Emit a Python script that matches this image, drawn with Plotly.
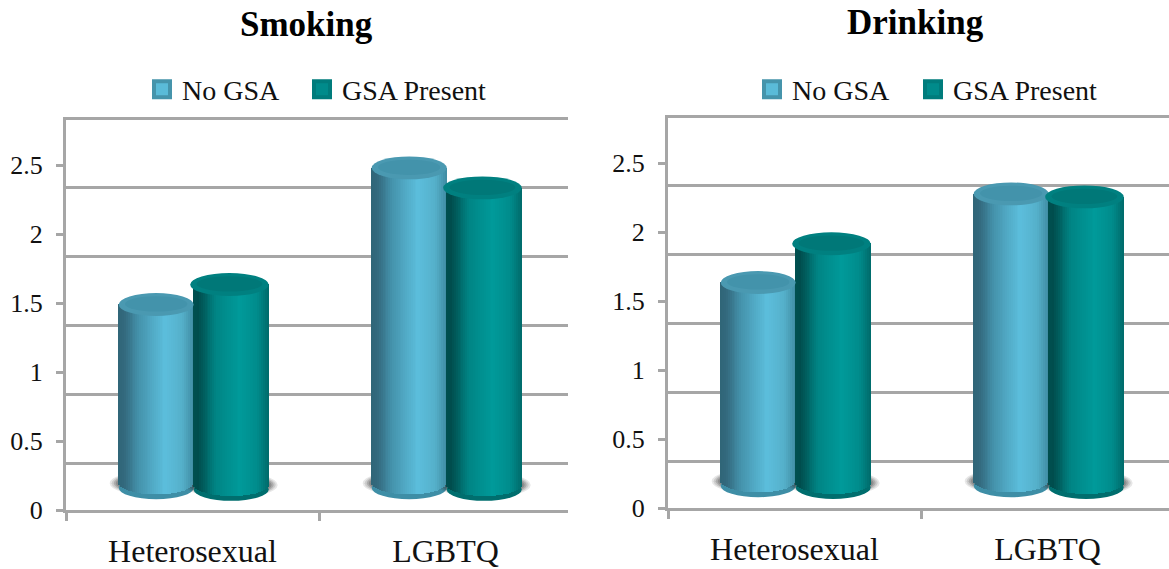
import numpy as np
import plotly.graph_objects as go

# ---------- data ----------
categories = ["Heterosexual", "LGBTQ"]
series_names = ["No GSA", "GSA Present"]
smoking_no_gsa = [1.49, 2.48]
smoking_gsa = [1.635, 2.335]
drinking_no_gsa = [1.635, 2.277]
drinking_gsa = [1.916, 2.255]
y_ticks = [0, 0.5, 1, 1.5, 2, 2.5]
y_tick_labels = ["0", "0.5", "1", "1.5", "2", "2.5"]

# ---------- style ----------
W, H = 1169, 569
PLOT_H = 553          # height of the plotting area after Plotly's own bottom reservation
PX_X = 253.0          # px per category
PX_Y = 138.8          # px per value unit
SERIF = "Liberation Serif"
GRID = "#A6A6A6"
TXT = "#111111"
BAR_W = 0.2965
BAR_SHIFT = 1.2 / PX_X
FLOOR = 0.195         # front-floor centre of the cylinders in value units
FLOOR_SHIFT = [0.0, -0.012]
CAP_H = 11.5 / PX_Y
GRID_SHIFT = 46.5 / PX_Y
STYLES = [
    dict(stops=[(0, "#2F6577"), (.08, "#33697D"), (.28, "#4594AD"), (.62, "#5CBEDC"), (.85, "#55B0CA"), (1, "#3F8BA2")],
         cap="#4A99B1", cap_in="#4393AB", rim="#3E8EA6", sw="#5ABBD8", sw_line="#4594AB", extra=0.0),
    dict(stops=[(0, "#005050"), (.06, "#004C4C"), (.3, "#008585"), (.62, "#009A9A"), (.85, "#008C8C"), (1, "#006A6A")],
         cap="#008080", cap_in="#007878", rim="#006E6E", sw="#008B8B", sw_line="#007C7C", extra=0.014),
]


def h2r(c):
    return np.array([int(c[i:i + 2], 16) for i in (1, 3, 5)], float)


def shade(stops, t):
    xs = [s[0] for s in stops]
    rgb = np.array([h2r(s[1]) for s in stops])
    return "rgb({:.0f},{:.0f},{:.0f})".format(*[np.interp(t, xs, rgb[:, i]) for i in range(3)])


fig = go.Figure()
shapes = []
N = 40


def cylinder_traces(values, s_idx, xa, ya):
    st = STYLES[s_idx]
    xs, ys, bases, cols = [], [], [], []
    step = BAR_W / N
    floor = FLOOR + FLOOR_SHIFT[s_idx]
    for c_idx, v in enumerate(values):
        left = c_idx + 0.5 - BAR_W + s_idx * BAR_W + BAR_SHIFT
        for k in range(N):
            t = (k + .5) / N
            b = floor - CAP_H * np.sqrt(max(0, 1 - (2 * t - 1) ** 2))
            xs.append(left + t * BAR_W)
            bases.append(b)
            ys.append(v - b)
            cols.append(shade(st["stops"], t))
        cx0, cx1 = left - st["extra"], left + BAR_W
        # soft floor shadow
        for gx, gy, alpha in [(9, 13, .12), (7, 12, .16), (5, 11, .22), (3, 10, .26), (1, 9, .30)]:
            shapes.append(dict(type="circle", xref=xa, yref=ya, layer="below",
                               x0=left - gx / PX_X, x1=cx1 + gx / PX_X,
                               y0=floor - gy / PX_Y, y1=floor + gy / PX_Y,
                               fillcolor=f"rgba(60,60,60,{alpha})", line_width=0))
        # rim at the bottom
        rim_drop = 4.5 / PX_Y
        shapes.append(dict(type="circle", xref=xa, yref=ya, layer="below",
                           x0=left, x1=cx1, y0=floor - CAP_H - rim_drop, y1=floor + CAP_H - rim_drop,
                           fillcolor=st["rim"], line_width=0))
        # top cap
        shapes.append(dict(type="circle", xref=xa, yref=ya, layer="above",
                           x0=cx0, x1=cx1, y0=v - CAP_H, y1=v + CAP_H,
                           fillcolor=st["cap"], line_width=0))
        shapes.append(dict(type="circle", xref=xa, yref=ya, layer="above",
                           x0=cx0 + .025, x1=cx1 - .025, y0=v - CAP_H * .62, y1=v + CAP_H * .72,
                           fillcolor=st["cap_in"], line_width=0))
    fig.add_trace(go.Bar(x=xs, y=ys, base=bases, width=step * 1.25, xaxis=xa, yaxis=ya,
                         marker=dict(color=cols, line_width=0), showlegend=False, hoverinfo="skip"))


panels = [
    dict(no=smoking_no_gsa, gsa=smoking_gsa, xa="x", grid="y", val="y2", legends=["legend", "legend2"]),
    dict(no=drinking_no_gsa, gsa=drinking_gsa, xa="x2", grid="y3", val="y4", legends=["legend3", "legend4"]),
]
for p in panels:
    # legend entries live on the grid axis, which also keeps that axis alive
    for i, name in enumerate(series_names):
        st = STYLES[i]
        fig.add_trace(go.Scatter(x=[None], y=[None], mode="markers", name=name, xaxis=p["xa"], yaxis=p["grid"],
                                 legend=p["legends"][i],
                                 marker=dict(symbol="square", size=16, color=st["sw"],
                                             line=dict(color=st["sw_line"], width=4))))
    cylinder_traces(p["no"], 0, p["xa"], p["val"])
    cylinder_traces(p["gsa"], 1, p["xa"], p["val"])


def x_axis(left, right, anchor):
    return dict(domain=[left / W, right / W], range=[0, (right - left) / PX_X], anchor=anchor,
                tickmode="array", tickvals=[.5, 1.5], ticktext=categories, ticks="", ticklen=0,
                ticklabelstandoff=10,
                tickfont=dict(family=SERIF, size=32, color=TXT), showgrid=False, zeroline=False,
                showline=True, linecolor=GRID, linewidth=3,
                minor=dict(tickmode="array", tickvals=[0, 1], ticks="outside", ticklen=8, tickcolor=GRID, tickwidth=3))


def y_grid(top, bottom, anchor):
    span = (bottom - top) / PX_Y
    return dict(domain=[1 - bottom / PLOT_H, 1 - top / PLOT_H], range=[-GRID_SHIFT, span - GRID_SHIFT], anchor=anchor,
                tickmode="array", tickvals=y_ticks, showticklabels=False, ticks="",
                showgrid=True, gridcolor=GRID, gridwidth=3, zeroline=False, showline=False)


def y_val(top, bottom, anchor, over):
    span = (bottom - top) / PX_Y
    return dict(range=[0, span], anchor=anchor, overlaying=over, side="left",
                tickmode="array", tickvals=y_ticks, ticktext=y_tick_labels, ticks="outside", ticklen=7,
                ticklabelstandoff=8,
                tickcolor=GRID, tickwidth=3, tickfont=dict(family=SERIF, size=26, color=TXT),
                showgrid=False, zeroline=False, showline=True, linecolor=GRID, linewidth=3)


annotations = [
    dict(text="<b>Smoking</b>", x=306 / W, y=1 - 25 / PLOT_H, xref="paper", yref="paper", showarrow=False,
         xanchor="center", yanchor="middle", font=dict(family=SERIF, size=35, color="#000000")),
    dict(text="<b>Drinking</b>", x=915 / W, y=1 - 23 / PLOT_H, xref="paper", yref="paper", showarrow=False,
         xanchor="center", yanchor="middle", font=dict(family=SERIF, size=35, color="#000000")),
]


def legend_cfg(x, y):
    return dict(orientation="h", x=x / W, y=1 - y / PLOT_H, xanchor="left", yanchor="middle",
                font=dict(family=SERIF, size=28, color=TXT), bgcolor="rgba(0,0,0,0)",
                itemsizing="trace", itemwidth=30, tracegroupgap=0)


fig.update_layout(
    width=W, height=H, autosize=False, margin=dict(l=0, r=0, t=0, b=0),
    paper_bgcolor="white", plot_bgcolor="white", barmode="overlay", bargap=0,
    shapes=shapes, annotations=annotations,
    xaxis=x_axis(66, 568, "y"),
    yaxis=y_grid(118, 513, "x"),
    yaxis2=y_val(118, 513, "x", "y"),
    xaxis2=x_axis(668, 1169, "y3"),
    yaxis3=y_grid(116, 511, "x2"),
    yaxis4=y_val(116, 511, "x2", "y3"),
    legend=legend_cfg(142, 90),
    legend2=legend_cfg(302, 90),
    legend3=legend_cfg(752, 90),
    legend4=legend_cfg(913, 90),
)

fig.write_html("out.html", config={"displayModeBar": False},
               post_script="document.body.style.margin='0';")
